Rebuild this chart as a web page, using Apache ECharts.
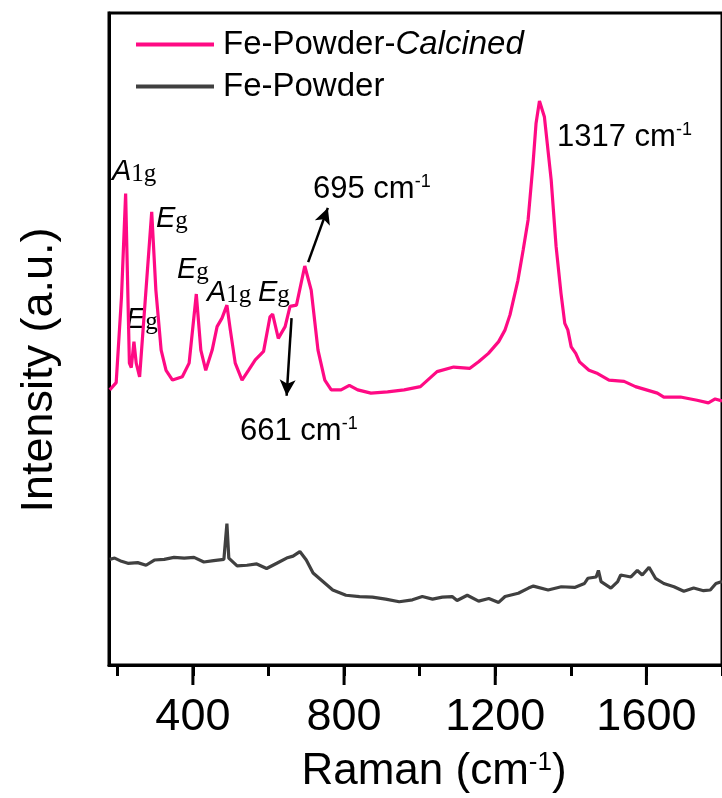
<!DOCTYPE html>
<html>
<head>
<meta charset="utf-8">
<script src="https://cdn.jsdelivr.net/npm/echarts@6/dist/echarts.min.js"></script>
<style>
  html, body { margin: 0; padding: 0; background: #fff; }
  #chart { width: 722px; height: 798px; }
</style>
</head>
<body>
<div id="chart"></div>
<script>
// Raman shift (cm-1), intensity (a.u.)
const calcined = [
  [180, 42.2], [197, 43.3], [211, 56.4], [222, 72.3], [232, 46.3], [237, 45.6], [244, 49.6],
  [250, 46.3], [259, 44.2], [291, 69.5], [302, 57.5], [316, 48.3], [329, 45.2], [346, 43.7],
  [372, 44.2], [390, 46.3], [409, 56.9], [421, 48.3], [434, 45.2], [451, 48.3], [464, 51.9],
  [477, 53.2], [490, 55.2], [499, 51.4], [512, 46.3], [530, 43.7], [547, 45.2], [565, 46.8],
  [587, 48.1], [604, 53.4], [611, 53.8], [626, 50.1], [644, 51.9], [657, 55.0], [674, 55.2],
  [696, 61.2], [713, 57.5], [731, 48.3], [749, 43.7], [766, 42.2], [792, 42.2], [814, 42.9],
  [836, 42.2], [871, 41.7], [915, 41.9], [959, 42.2], [1002, 42.7], [1046, 45.0], [1090, 45.7],
  [1133, 45.5], [1156, 46.5], [1182, 47.8], [1209, 49.6], [1226, 51.4], [1239, 53.7], [1260, 59.0],
  [1274, 63.7], [1287, 68.3], [1300, 76.9], [1308, 83.1], [1317, 86.5], [1330, 84.1], [1348, 74.4],
  [1361, 64.2], [1374, 57.0], [1384, 52.4], [1392, 51.4], [1401, 48.8], [1413, 47.8], [1423, 46.5],
  [1448, 45.2], [1471, 44.7], [1501, 43.7], [1541, 43.5], [1571, 42.7], [1629, 41.7], [1646, 41.1],
  [1690, 41.1], [1734, 40.6], [1764, 40.2], [1782, 40.8], [1800, 40.5]
];

const powder = [
  [180, 16.2], [193, 16.4], [211, 15.9], [228, 15.6], [254, 15.7], [276, 15.3], [298, 16.1],
  [324, 16.2], [350, 16.5], [377, 16.4], [403, 16.5], [429, 15.8], [455, 16.0], [482, 16.2],
  [486, 16.4], [490, 21.7], [495, 16.4], [499, 16.1], [517, 15.2], [543, 15.3], [569, 15.5],
  [595, 14.8], [622, 15.6], [648, 16.4], [665, 16.7], [683, 17.4], [700, 16.1], [718, 14.1],
  [744, 12.8], [770, 11.5], [805, 10.7], [841, 10.5], [875, 10.4], [910, 10.1], [946, 9.7],
  [981, 10.0], [1007, 10.5], [1034, 10.1], [1060, 10.4], [1086, 10.5], [1099, 9.9], [1126, 10.7],
  [1156, 9.8], [1183, 10.2], [1209, 9.6], [1226, 10.5], [1261, 11.0], [1288, 11.8], [1301, 12.1],
  [1340, 11.5], [1375, 12.0], [1410, 11.9], [1436, 12.5], [1445, 13.3], [1467, 13.5], [1473, 14.5],
  [1480, 12.8], [1506, 11.8], [1524, 12.8], [1532, 13.8], [1559, 13.5], [1576, 14.5], [1589, 13.8],
  [1607, 15.0], [1624, 13.3], [1646, 12.5], [1673, 12.0], [1699, 11.3], [1725, 11.8], [1751, 11.4],
  [1769, 11.5], [1784, 12.5], [1800, 12.8]
];

const majorTicks = [400, 800, 1200, 1600];
const allTicks = [200, 400, 600, 800, 1000, 1200, 1400, 1600, 1800];

// arrows pointing at the 695 and 661 bands
const arrow695 = [[705, 61.8], [757, 70.1]];
const arrow661 = [[661, 53.2], [648, 41.3]];

const FONT = "'Liberation Sans', Arial, sans-serif";
const SERIF = "'Liberation Serif', 'Times New Roman', serif";

const chart = echarts.init(document.getElementById('chart'));

const peakLabel = (x, y, big, small) => ({
  type: 'text',
  x: x,
  y: y,
  style: {
    text: '{a|' + big + '}{s|' + small + '}',
    align: 'left',
    verticalAlign: 'middle',
    rich: {
      a: { fontFamily: FONT, fontStyle: 'italic', fontSize: 29, fill: '#000' },
      s: { fontFamily: SERIF, fontSize: 25, fill: '#000', verticalAlign: 'bottom' }
    }
  }
});

const waveLabel = (x, y, num) => ({
  type: 'text',
  x: x,
  y: y,
  style: {
    text: '{n|' + num + ' cm}{p|-1}',
    align: 'left',
    verticalAlign: 'middle',
    rich: {
      n: { fontFamily: FONT, fontSize: 31, fill: '#000' },
      p: { fontFamily: FONT, fontSize: 18, fill: '#000', verticalAlign: 'top' }
    }
  }
});

const arrowLine = (pts) => ({
  type: 'line',
  data: [],
  markLine: {
    silent: true,
    symbol: ['none', 'arrow'],
    symbolSize: [12, 16],
    label: { show: false },
    lineStyle: { color: '#000', width: 2.5, type: 'solid' },
    data: [[{ coord: pts[0] }, { coord: pts[1] }]]
  }
});

const option = {
  backgroundColor: '#fff',
  animation: false,
  grid: {
    left: 109,
    top: 13,
    width: 618,
    height: 652,
    show: true,
    borderColor: '#000',
    borderWidth: 3,
    backgroundColor: 'transparent'
  },
  legend: {
    orient: 'vertical',
    left: 131,
    top: 23,
    icon: 'rect',
    itemWidth: 78,
    itemHeight: 4,
    itemGap: 9,
    data: ['Fe-Powder-Calcined', 'Fe-Powder'],
    formatter: (name) => name === 'Fe-Powder-Calcined' ? 'Fe-Powder-{i|Calcined}' : name,
    textStyle: {
      fontFamily: FONT,
      fontSize: 33,
      color: '#000',
      padding: [0, 0, 0, 4],
      rich: {
        i: { fontFamily: FONT, fontSize: 33, fontStyle: 'italic', color: '#000' }
      }
    }
  },
  xAxis: {
    type: 'value',
    min: 178,
    max: 1800,
    position: 'bottom',
    splitLine: { show: false },
    axisLine: { show: true, onZero: false, lineStyle: { color: '#000', width: 3 } },
    axisTick: { show: true, inside: false, length: 11, customValues: allTicks, lineStyle: { color: '#000', width: 3 } },
    axisLabel: {
      show: true,
      customValues: majorTicks,
      margin: 30,
      color: '#000',
      fontFamily: FONT,
      fontSize: 45,
      formatter: (v) => String(v)
    }
  },
  yAxis: {
    type: 'value',
    min: 0,
    max: 100,
    splitLine: { show: false },
    axisLine: { show: true, onZero: false, lineStyle: { color: '#000', width: 3 } },
    axisTick: { show: false },
    axisLabel: { show: false }
  },
  series: [
    {
      name: 'Fe-Powder-Calcined',
      type: 'line',
      data: calcined,
      showSymbol: false,
      symbol: 'none',
      lineStyle: { color: '#FF0A84', width: 3.2 },
      itemStyle: { color: '#FF0A84' }
    },
    {
      name: 'Fe-Powder',
      type: 'line',
      data: powder,
      showSymbol: false,
      symbol: 'none',
      lineStyle: { color: '#404040', width: 3.2 },
      itemStyle: { color: '#404040' }
    },
    arrowLine(arrow695),
    arrowLine(arrow661),
    {
      // longer marks for the labelled ticks
      type: 'custom',
      silent: true,
      clip: false,
      data: majorTicks.map((v) => [v, 0]),
      renderItem: (params, api) => {
        const p = api.coord([api.value(0), api.value(1)]);
        return {
          type: 'line',
          shape: { x1: p[0], y1: p[1], x2: p[0], y2: p[1] + 20 },
          style: { stroke: '#000', lineWidth: 3 }
        };
      }
    }
  ],
  graphic: [
    {
      type: 'text',
      x: 40,
      y: 370,
      rotation: Math.PI / 2,
      style: { text: 'Intensity (a.u.)', fontFamily: FONT, fontSize: 45, fill: '#000', align: 'center', verticalAlign: 'middle' }
    },
    {
      type: 'text',
      x: 434,
      y: 772,
      style: {
        text: '{n|Raman (cm}{p|-1}{n|)}',
        align: 'center',
        verticalAlign: 'middle',
        rich: {
          n: { fontFamily: FONT, fontSize: 44, fill: '#000' },
          p: { fontFamily: FONT, fontSize: 26, fill: '#000', verticalAlign: 'top' }
        }
      }
    },
    peakLabel(112, 172, 'A', '1g'),
    peakLabel(156, 219, 'E', 'g'),
    peakLabel(126, 320, 'E', 'g'),
    peakLabel(177, 270, 'E', 'g'),
    peakLabel(207, 293, 'A', '1g'),
    peakLabel(258, 293, 'E', 'g'),
    waveLabel(313, 189, '695'),
    waveLabel(557, 137, '1317'),
    waveLabel(240, 431, '661')
  ]
};

chart.setOption(option);
</script>
</body>
</html>
